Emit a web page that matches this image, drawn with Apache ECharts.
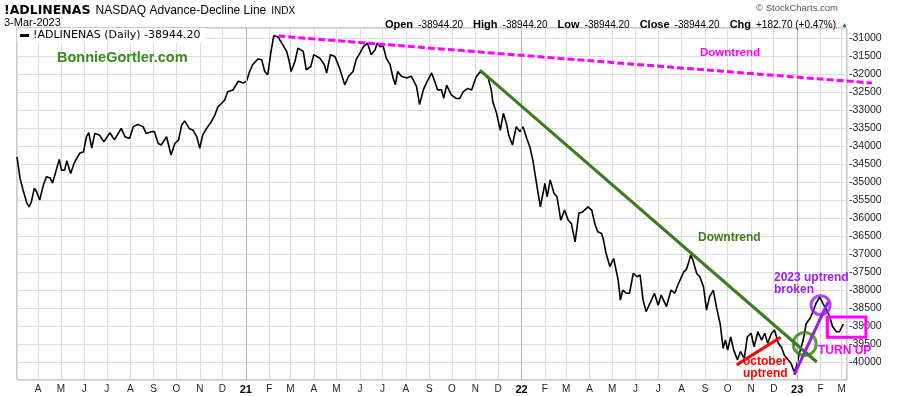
<!DOCTYPE html>
<html><head><meta charset="utf-8">
<script src="https://cdn.jsdelivr.net/npm/echarts@6/dist/echarts.min.js"></script>
<style>html,body{margin:0;padding:0;background:#fff}#c{width:900px;height:396px}</style>
</head><body><div id="c"></div>
<script>
const dates = ['2020-03-04','2020-03-08','2020-03-12','2020-03-17','2020-03-20','2020-03-23','2020-03-27','2020-03-30','2020-04-03','2020-04-08','2020-04-12','2020-04-17','2020-04-20','2020-04-23','2020-04-29','2020-05-02','2020-05-06','2020-05-09','2020-05-14','2020-05-19','2020-05-26','2020-05-31','2020-06-04','2020-06-07','2020-06-11','2020-06-15','2020-06-21','2020-06-27','2020-07-05','2020-07-11','2020-07-20','2020-07-25','2020-07-31','2020-08-05','2020-08-11','2020-08-18','2020-08-22','2020-08-29','2020-09-02','2020-09-07','2020-09-11','2020-09-18','2020-09-24','2020-09-29','2020-10-04','2020-10-08','2020-10-12','2020-10-18','2020-10-23','2020-10-28','2020-11-01','2020-11-05','2020-11-10','2020-11-16','2020-11-21','2020-11-25','2020-11-30','2020-12-04','2020-12-08','2020-12-15','2020-12-22','2020-12-29','2021-01-02','2021-01-06','2021-01-10','2021-01-17','2021-01-22','2021-01-26','2021-01-30','2021-02-03','2021-02-07','2021-02-13','2021-02-19','2021-02-24','2021-02-27','2021-03-02','2021-03-07','2021-03-11','2021-03-18','2021-03-22','2021-03-28','2021-04-01','2021-04-09','2021-04-15','2021-04-18','2021-04-23','2021-04-29','2021-05-05','2021-05-12','2021-05-17','2021-05-23','2021-05-27','2021-06-01','2021-06-06','2021-06-11','2021-06-16','2021-06-21','2021-06-24','2021-06-27','2021-07-02','2021-07-06','2021-07-11','2021-07-15','2021-07-18','2021-07-21','2021-07-26','2021-08-02','2021-08-08','2021-08-15','2021-08-19','2021-08-24','2021-08-28','2021-09-04','2021-09-08','2021-09-12','2021-09-17','2021-09-20','2021-09-24','2021-09-30','2021-10-07','2021-10-11','2021-10-16','2021-10-22','2021-10-27','2021-10-29','2021-11-02','2021-11-07','2021-11-11','2021-11-18','2021-11-22','2021-11-24','2021-11-29','2021-12-04','2021-12-08','2021-12-12','2021-12-15','2021-12-20','2021-12-25','2021-12-30','2022-01-03','2022-01-08','2022-01-12','2022-01-16','2022-01-22','2022-01-26','2022-02-01','2022-02-04','2022-02-08','2022-02-13','2022-02-17','2022-02-22','2022-02-27','2022-03-04','2022-03-08','2022-03-13','2022-03-18','2022-03-23','2022-03-30','2022-04-04','2022-04-08','2022-04-12','2022-04-17','2022-04-19','2022-04-23','2022-04-28','2022-05-03','2022-05-09','2022-05-12','2022-05-15','2022-05-20','2022-05-24','2022-05-29','2022-06-03','2022-06-07','2022-06-11','2022-06-15','2022-06-22','2022-06-26','2022-07-01','2022-07-05','2022-07-12','2022-07-18','2022-07-23','2022-07-27','2022-08-01','2022-08-04','2022-08-07','2022-08-10','2022-08-13','2022-08-16','2022-08-21','2022-08-25','2022-08-30','2022-09-03','2022-09-07','2022-09-12','2022-09-16','2022-09-21','2022-09-25','2022-09-28','2022-10-01','2022-10-05','2022-10-09','2022-10-14','2022-10-18','2022-10-23','2022-10-27','2022-11-01','2022-11-05','2022-11-10','2022-11-15','2022-11-19','2022-11-23','2022-11-28','2022-12-02','2022-12-07','2022-12-11','2022-12-15','2022-12-20','2022-12-24','2022-12-28','2022-12-31','2023-01-04','2023-01-09','2023-01-13','2023-01-18','2023-01-22','2023-01-26','2023-01-31','2023-02-04','2023-02-09','2023-02-13','2023-02-17','2023-02-22','2023-02-26','2023-03-03'];
const adValues = [-34300,-34890,-35220,-35580,-35690,-35550,-35170,-35270,-35500,-35080,-34850,-34890,-35030,-34810,-34370,-34670,-34670,-34410,-34760,-34460,-34200,-34160,-33740,-33630,-34060,-33650,-33690,-33880,-33630,-33830,-33510,-33740,-33790,-33460,-33400,-33460,-33650,-33600,-33600,-33930,-33970,-33740,-34250,-33930,-33830,-33420,-33300,-33510,-33560,-33740,-34060,-33690,-33510,-33330,-33140,-32910,-32810,-32720,-32490,-32440,-32200,-32250,-32190,-31930,-31740,-31580,-31600,-31930,-32020,-31420,-30930,-30980,-31190,-31370,-31600,-31930,-31650,-31280,-31370,-31880,-31790,-31460,-31560,-31740,-31970,-31460,-31510,-31830,-32300,-32060,-31930,-31600,-31420,-31230,-31140,-31460,-31330,-31140,-31230,-31230,-31560,-31740,-32110,-32300,-31930,-32060,-32110,-32060,-32340,-32850,-32440,-32250,-31970,-32200,-32440,-32440,-32670,-32310,-32580,-32680,-32680,-32490,-32400,-32440,-32310,-32080,-31940,-31980,-32120,-32440,-32770,-33090,-33560,-33090,-33370,-33690,-33970,-33460,-33600,-33460,-33790,-34020,-34390,-35180,-35690,-35040,-35410,-34940,-35310,-35410,-36060,-35780,-36060,-36150,-36660,-35870,-35830,-35690,-35780,-36150,-36380,-36430,-36560,-36980,-37350,-37120,-37720,-38280,-38000,-38090,-38090,-37540,-37630,-37580,-38280,-38600,-38280,-38090,-38420,-38140,-38460,-38000,-38090,-37860,-37630,-37490,-37440,-37260,-37030,-37170,-37540,-37630,-37910,-38560,-38190,-38000,-38460,-38930,-39620,-39390,-39670,-39300,-39670,-39940,-39710,-39900,-39300,-39200,-39580,-39160,-39390,-39200,-39480,-39200,-39110,-39480,-39580,-39810,-39940,-40040,-40270,-40130,-39760,-39390,-38930,-38790,-38600,-38370,-38190,-38370,-38560,-38740,-39020,-39160,-39160,-38944.2];
const monthLetters = ['J','F','M','A','M','J','J','A','S','O','N','D'];
const seriesName = '!ADLINENAS (Daily) -38944.20';
const axisStart = '2020-03-04';
const axisEnd = '2023-03-08';
const yearStarts = ['2021-01-01','2022-01-01','2023-01-01'];
const longTrendDates = ['2021-02-13','2023-04-10'];
const longTrendValues = [-30944,-32250];
const fallTrendDates = ['2021-11-07','2023-01-27'];
const fallTrendValues = [-31890,-40000];
const octTrendDates = ['2022-10-13','2022-12-10'];
const octTrendValues = [-40080,-39310];
const upTrendDates = ['2022-12-28','2023-02-11'];
const upTrendValues = [-40360,-38330];
const turnCircle = ['2023-01-11', -39500];
const brokenCircle = ['2023-02-01', -38420];
const boxDates = ['2023-02-10','2023-04-02'];
const boxValues = [-38750,-39310];

const ts = s => { const p = s.split('-').map(Number); return new Date(p[0], p[1]-1, p[2]).getTime(); };
const pair = (d, v) => d.map((x, i) => [ts(x), v[i]]);
const chart = echarts.init(document.getElementById('c'), null, {renderer: 'canvas'});
const F = '"Liberation Sans", Arial, sans-serif';
const V = '"DejaVu Sans", Verdana, sans-serif';
const MAG = '#ff00ff', GRN = '#3a7d1c', PUR = '#9b19f5', RED = '#ff0000';

// trend segments: [x0, y0, x1, y1, colorIndex]
const trendStyles = [
  {stroke: MAG, lineWidth: 3, lineDash: [7, 3]},
  {stroke: GRN, lineWidth: 3},
  {stroke: RED, lineWidth: 3},
  {stroke: PUR, lineWidth: 3}
];
const seg = (d, v, k) => [ts(d[0]), v[0], ts(d[1]), v[1], k];
const trendData = [
  seg(longTrendDates, longTrendValues, 0),
  seg(fallTrendDates, fallTrendValues, 1),
  seg(octTrendDates, octTrendValues, 2),
  seg(upTrendDates, upTrendValues, 3)
];
const textStyleM = (fill, size) => ({fill, font: 'bold ' + size + 'px ' + F, verticalAlign: 'middle', textVerticalAlign: 'middle'});

const option = {
  animation: false,
  textStyle: {fontFamily: F},
  title: [
    {left: 4, top: 2, padding: 0, text: '{a|!ADLINENAS} {b|NASDAQ Advance-Decline Line} {c|INDX}',
     textStyle: {rich: {a: {fontFamily: V, fontSize: 12.5, fontWeight: 'bold', color: '#000'},
       b: {fontFamily: F, fontSize: 12, fontWeight: 'normal', color: '#000'}, c: {fontFamily: F, fontSize: 10, fontWeight: 'normal', color: '#000'}}}},
    {left: 4, top: 17, padding: 0, text: '3-Mar-2023', textStyle: {fontFamily: F, fontSize: 11, fontWeight: 'normal', color: '#000'}},
    {right: 52, top: 16, padding: 0,
     text: '{k|Open} {v|-38944.20}  {k|High} {v|-38944.20}  {k|Low} {v|-38944.20}  {k|Close} {v|-38944.20}  {k|Chg} {v|+182.70 (+0.47%)} {t|▲}',
     textStyle: {rich: {k: {fontFamily: F, fontSize: 11, fontWeight: 'bold', color: '#000'},
       v: {fontFamily: F, fontSize: 10, fontWeight: 'normal', color: '#000'}, t: {fontSize: 7, color: '#1a8a1a'}}}},
    {right: 62, top: 3, padding: 0, text: '© StockCharts.com', textStyle: {fontFamily: F, fontSize: 9.5, fontWeight: 'normal', color: '#555'}}
  ],
  legend: {
    data: [seriesName], left: 17, top: 28, padding: [2, 5, 2, 3], backgroundColor: '#fff',
    icon: 'rect', itemWidth: 9, itemHeight: 3, itemGap: 4, selectedMode: false,
    textStyle: {fontFamily: V, fontSize: 11, color: '#000', padding: [0, 0, 0, -1]}
  },
  grid: {left: 17, right: 53, top: 28, bottom: 16, show: true, borderColor: '#999', borderWidth: 1, backgroundColor: '#fff'},
  xAxis: {
    type: 'time', min: ts(axisStart), max: ts(axisEnd),
    minInterval: 30 * 864e5, maxInterval: 30 * 864e5,
    axisLine: {show: false}, axisTick: {show: false},
    splitLine: {show: true, lineStyle: {color: '#dcdcdc', width: 1}},
    axisLabel: {
      fontFamily: F, fontSize: 10, color: '#222', margin: 4, hideOverlap: false,
      formatter: function (value) {
        const d = new Date(value);
        if (d.getDate() !== 1) return '';
        if (d.getMonth() === 0) return '{y|' + String(d.getFullYear()).slice(2) + '}';
        return monthLetters[d.getMonth()];
      },
      rich: {y: {fontFamily: F, fontSize: 11, fontWeight: 'bold', color: '#000'}}
    }
  },
  yAxis: {
    type: 'value', position: 'right', min: -40500, max: -30720, interval: 500,
    axisLine: {show: false}, axisTick: {show: false},
    splitLine: {lineStyle: {color: '#dcdcdc', width: 1}},
    axisLabel: {fontFamily: F, fontSize: 10.5, color: '#222', margin: 2,
      formatter: v => (v >= -40000 && v <= -31000 && v % 500 === 0) ? String(v) : ''}
  },
  graphic: [
    {type: 'text', x: 57, y: 58, style: Object.assign({text: 'BonnieGortler.com'}, textStyleM('#3a8a1e', 14.5)), z: 10},
    {type: 'text', x: 700, y: 53, style: Object.assign({text: 'Downtrend'}, textStyleM(MAG, 11.5)), z: 10},
    {type: 'text', x: 698, y: 238, style: Object.assign({text: 'Downtrend'}, textStyleM(GRN, 12)), z: 10},
    {type: 'text', x: 774, y: 278, style: Object.assign({text: '2023 uptrend'}, textStyleM(PUR, 12)), z: 10},
    {type: 'text', x: 774, y: 289.5, style: Object.assign({text: 'broken'}, textStyleM(PUR, 12)), z: 10},
    {type: 'text', x: 743, y: 362, style: Object.assign({text: 'october'}, textStyleM(RED, 12)), z: 10},
    {type: 'text', x: 743, y: 373.5, style: Object.assign({text: 'uptrend'}, textStyleM(RED, 12)), z: 10},
    {type: 'text', x: 818, y: 350.5, style: Object.assign({text: 'TURN UP'}, textStyleM(MAG, 12)), z: 10}
  ],
  series: [
    {type: 'line', name: seriesName, data: pair(dates, adValues), symbol: 'none', z: 4,
     itemStyle: {color: '#000'}, lineStyle: {color: '#000', width: 1.6},
     markLine: {silent: true, symbol: 'none', label: {show: false}, animation: false,
       lineStyle: {color: '#b4b4b4', width: 1, type: 'solid'},
       data: yearStarts.map(d => ({xAxis: ts(d)}))}},
    {type: 'custom', name: 'trends', data: trendData, clip: false, silent: true, z: 5,
     encode: {x: [0, 2], y: [1, 3]},
     renderItem: function (params, api) {
       const p0 = api.coord([api.value(0), api.value(1)]);
       const p1 = api.coord([api.value(2), api.value(3)]);
       const st = trendStyles[api.value(4)];
       return {type: 'line', shape: {x1: p0[0], y1: p0[1], x2: p1[0], y2: p1[1]},
         style: {stroke: st.stroke, lineWidth: st.lineWidth, lineDash: st.lineDash || null, fill: null}};
     }},
    {type: 'custom', name: 'box', data: [[ts(boxDates[0]), boxValues[0], ts(boxDates[1]), boxValues[1]]], clip: false, silent: true, z: 5,
     encode: {x: [0, 2], y: [1, 3]},
     renderItem: function (params, api) {
       const p0 = api.coord([api.value(0), api.value(1)]);
       const p1 = api.coord([api.value(2), api.value(3)]);
       return {type: 'rect', shape: {x: p0[0], y: p0[1], width: p1[0] - p0[0], height: p1[1] - p0[1]},
         style: {stroke: MAG, lineWidth: 3, fill: null}};
     }},
    {type: 'scatter', name: 'turn', data: [[ts(turnCircle[0]), turnCircle[1]]], symbol: 'circle', symbolSize: 23, silent: true, clip: false, z: 6,
     itemStyle: {color: 'rgba(0,0,0,0)', borderColor: GRN, borderWidth: 3}},
    {type: 'scatter', name: 'broken', data: [[ts(brokenCircle[0]), brokenCircle[1]]], symbol: 'circle', symbolSize: 19, silent: true, clip: false, z: 6,
     itemStyle: {color: 'rgba(0,0,0,0)', borderColor: PUR, borderWidth: 3}}
  ]
};
chart.setOption(option);
</script></body></html>
